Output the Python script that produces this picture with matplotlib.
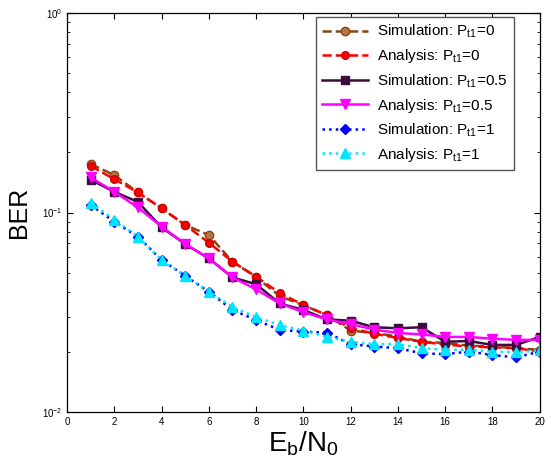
import matplotlib
matplotlib.use('Agg')
import matplotlib.pyplot as plt
from matplotlib.ticker import LogLocator, NullFormatter

plt.rcParams['font.family'] = ['Liberation Sans', 'DejaVu Sans']
plt.rcParams['mathtext.fontset'] = 'custom'
plt.rcParams['mathtext.rm'] = 'Liberation Sans'
plt.rcParams['mathtext.it'] = 'Liberation Sans'

ebn0 = list(range(1, 21))

sim_p0 = [0.175, 0.154, 0.126, 0.105, 0.0866, 0.0771, 0.0567, 0.0475, 0.0381, 0.0343,
          0.0306, 0.0256, 0.0249, 0.0239, 0.0225, 0.0222, 0.0215, 0.0213, 0.0209, 0.0205]
ana_p0 = [0.171, 0.147, 0.126, 0.105, 0.0866, 0.0706, 0.0567, 0.0477, 0.0395, 0.0344,
          0.0306, 0.0263, 0.0247, 0.0235, 0.0225, 0.0218, 0.0213, 0.0211, 0.0209, 0.0201]
sim_p05 = [0.146, 0.127, 0.113, 0.0843, 0.0695, 0.0589, 0.0473, 0.0437, 0.0350, 0.0325,
           0.0291, 0.0287, 0.0266, 0.0263, 0.0266, 0.0225, 0.0227, 0.0217, 0.0217, 0.0238]
ana_p05 = [0.150, 0.127, 0.106, 0.085, 0.0695, 0.0589, 0.0473, 0.0412, 0.0350, 0.0317,
           0.0291, 0.0276, 0.0259, 0.0249, 0.0245, 0.0238, 0.0238, 0.0233, 0.0230, 0.0230]
sim_p1 = [0.109, 0.090, 0.0757, 0.0578, 0.0482, 0.0401, 0.0325, 0.0289, 0.0258, 0.0253,
          0.0250, 0.0219, 0.0213, 0.0209, 0.0197, 0.0195, 0.0201, 0.0193, 0.0188, 0.0201]
ana_p1 = [0.112, 0.092, 0.0757, 0.0578, 0.0482, 0.0401, 0.0336, 0.0299, 0.0273, 0.0256,
          0.0238, 0.0225, 0.0219, 0.0219, 0.0209, 0.0205, 0.0205, 0.0201, 0.0199, 0.0204]

fig = plt.figure(figsize=(5.51, 4.72), dpi=100)
ax = fig.add_axes([0.1216, 0.127, 0.858, 0.8455])

lw = 1.8
ax.semilogy(ebn0, sim_p0, '--o', color='#8b4513', mfc='#b07848', mec='#8b4513', lw=lw, ms=6,
            label=r'Simulation: P$_{\rm t1}$=0')
ax.semilogy(ebn0, ana_p0, '--o', color='#ff0000', mfc='#ff0000', mec='#cc0000', lw=lw, ms=5.5,
            label=r'Analysis: P$_{\rm t1}$=0')
ax.semilogy(ebn0, sim_p05, '-s', color='#3d0b3d', mfc='#3d0b3d', lw=lw, ms=6,
            label=r'Simulation: P$_{\rm t1}$=0.5')
ax.semilogy(ebn0, ana_p05, '-v', color='#ff00ff', mfc='#ff00ff', lw=lw, ms=7,
            label=r'Analysis: P$_{\rm t1}$=0.5')
ax.semilogy(ebn0, sim_p1, ':D', color='#0000ff', mfc='#0000ff', lw=lw, ms=5,
            label=r'Simulation: P$_{\rm t1}$=1')
ax.semilogy(ebn0, ana_p1, ':^', color='#00e5ff', mfc='#00e5ff', lw=lw, ms=7,
            label=r'Analysis: P$_{\rm t1}$=1')

ax.set_xlim(0, 20)
ax.set_ylim(1e-2, 1)
ax.set_xticks(range(0, 21, 2))
ax.yaxis.set_minor_locator(LogLocator(base=10, subs=range(2, 10)))
ax.yaxis.set_minor_formatter(NullFormatter())
ax.tick_params(which='both', direction='in', top=True, right=True, labelsize=7)
ax.tick_params(which='major', length=4)
ax.tick_params(which='minor', length=2)
for s in ax.spines.values():
    s.set_linewidth(0.9)

ax.set_xlabel(r'E$_{\rm b}$/N$_{\rm 0}$', fontsize=20, labelpad=2)
ax.set_ylabel('BER', fontsize=18, labelpad=8)

leg = ax.legend(loc='upper right', bbox_to_anchor=(0.945, 0.99), borderaxespad=0,
                fontsize=11, fancybox=False, edgecolor='#555555', framealpha=1,
                handlelength=3.0, handletextpad=0.6, labelspacing=0.45, borderpad=0.4)
leg.get_frame().set_linewidth(1.0)

fig.savefig('out.png', dpi=100)
